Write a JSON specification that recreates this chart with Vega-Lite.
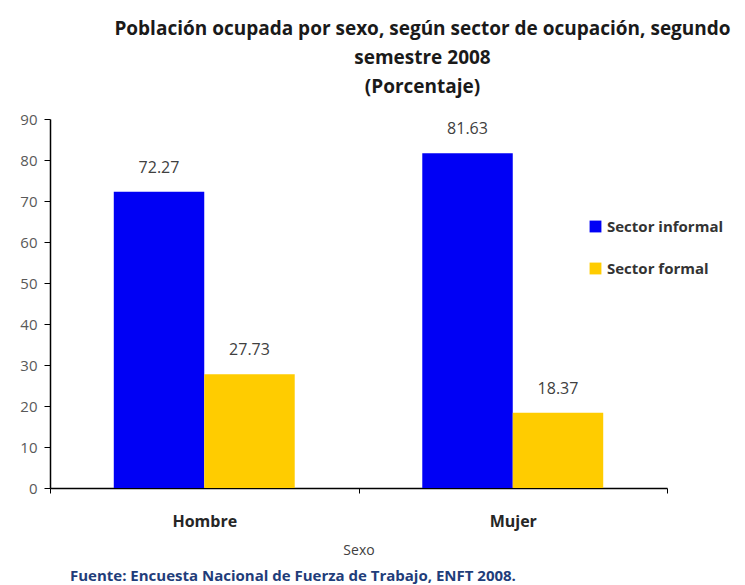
{
  "$schema": "https://vega.github.io/schema/vega-lite/v6.json",
  "background": "white",
  "padding": {"left": 5, "top": 20, "right": 0, "bottom": 0},
  "title": {
    "text": ["Población ocupada por sexo, según sector de ocupación, segundo", "semestre 2008", "(Porcentaje)"],
    "font": "Open Sans",
    "fontSize": 19,
    "fontWeight": "bold",
    "color": "#1a1a1a",
    "lineHeight": 29,
    "anchor": "middle",
    "frame": "group",
    "dx": 64,
    "offset": 15
  },
  "config": {
    "view": {"stroke": null},
    "font": "Open Sans"
  },
  "vconcat": [
    {
      "width": 617,
      "height": 369,
      "title": {
        "text": "Fuente: Encuesta Nacional de Fuerza de Trabajo, ENFT 2008.",
        "orient": "bottom",
        "anchor": "start",
        "frame": "group",
        "dx": 20,
        "offset": 12,
        "font": "Open Sans",
        "fontSize": 15,
        "fontWeight": "bold",
        "color": "#1F3D7A"
      },
      "data": {
        "values": [
          {"Sexo": "Hombre", "Sector": "Sector informal", "Porcentaje": 72.27},
          {"Sexo": "Hombre", "Sector": "Sector formal", "Porcentaje": 27.73},
          {"Sexo": "Mujer", "Sector": "Sector informal", "Porcentaje": 81.63},
          {"Sexo": "Mujer", "Sector": "Sector formal", "Porcentaje": 18.37}
        ]
      },
      "encoding": {
        "x": {
          "field": "Sexo",
          "type": "nominal",
          "sort": ["Hombre", "Mujer"],
          "scale": {"paddingInner": 0, "paddingOuter": 0},
          "axis": {
            "title": "Sexo",
            "titleFont": "Open Sans",
            "titleFontSize": 14,
            "titleFontWeight": "normal",
            "titleColor": "#404040",
            "titlePadding": 14,
            "labelAngle": 0,
            "labelFont": "Open Sans",
            "labelFontSize": 16,
            "labelFontWeight": "bold",
            "labelColor": "#262626",
            "labelPadding": 20,
            "tickBand": "extent",
            "tickSize": 5,
            "tickColor": "#000000",
            "domainColor": "#000000",
            "domainWidth": 1.5
          }
        },
        "xOffset": {
          "field": "Sector",
          "type": "nominal",
          "sort": ["Sector informal", "Sector formal"],
          "scale": {"paddingInner": 0, "paddingOuter": 0.705}
        },
        "y": {
          "field": "Porcentaje",
          "type": "quantitative",
          "scale": {"domain": [0, 90], "nice": false},
          "axis": {
            "title": null,
            "values": [0, 10, 20, 30, 40, 50, 60, 70, 80, 90],
            "grid": false,
            "minExtent": 45,
            "labelFont": "Open Sans",
            "labelFontSize": 15,
            "labelColor": "#595959",
            "labelPadding": 7,
            "tickSize": 6,
            "tickColor": "#000000",
            "domainColor": "#000000",
            "domainWidth": 1.5
          }
        }
      },
      "layer": [
        {
          "mark": {"type": "bar"},
          "encoding": {
            "color": {
              "field": "Sector",
              "type": "nominal",
              "sort": ["Sector informal", "Sector formal"],
              "scale": {"domain": ["Sector informal", "Sector formal"], "range": ["#0000F5", "#FFCC00"]},
              "legend": {
                "title": null,
                "orient": "none",
                "legendX": 538,
                "legendY": 100,
                "symbolType": "square",
                "symbolSize": 140,
                "symbolStrokeWidth": 0,
                "symbolOpacity": 1,
                "labelFont": "Open Sans",
                "labelFontSize": 15,
                "labelFontWeight": "bold",
                "labelColor": "#333333",
                "labelOffset": 4,
                "rowPadding": 26
              }
            }
          }
        },
        {
          "mark": {"type": "text", "baseline": "middle", "dy": -24, "font": "Open Sans", "fontSize": 16, "color": "#404040"},
          "encoding": {
            "text": {"field": "Porcentaje", "type": "quantitative", "format": ".2f"}
          }
        }
      ]
    }
  ]
}
